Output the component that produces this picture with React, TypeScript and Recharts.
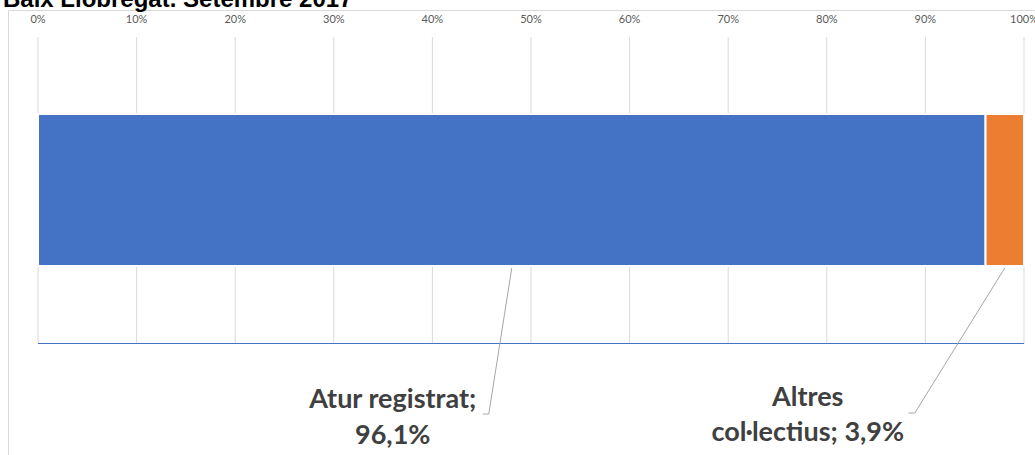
import { BarChart, Bar, XAxis, YAxis, CartesianGrid, LabelList } from "recharts";

const title = "Baix Llobregat. Setembre 2017";
const categories = ["Baix Llobregat"];
const seriesNames = ["Atur registrat", "Altres col·lectius"];
const seriesKeys = ["atur", "altres"];
const seriesValues = [[96.1], [3.9]];
const seriesColors = ["#4472C4", "#ED7D31"];
const ticks = [0, 10, 20, 30, 40, 50, 60, 70, 80, 90, 100];

const data = categories.map((name, i) => {
  const row: any = { name };
  seriesKeys.forEach((k, s) => (row[k] = seriesValues[s][i]));
  return row;
});

// hand-placed label boxes (offsets from the bottom centre of each segment)
const labelLayout = [
  { lineDx: -23, lineDy: 148, hookDx: -29, textDx: -119, y1: 142, y2: 178, breakAfter: 2 },
  { lineDx: -90, lineDy: 147, hookDx: -96, textDx: -197, y1: 140, y2: 175, breakAfter: 1 },
];

const fmt = (v: number) => v.toFixed(1).replace(".", ",") + "%";

function LeaderLabel(props: any) {
  const { s } = props;
  const vb = props.viewBox || props;
  const x = Number(vb.x);
  const y = Number(vb.y);
  const w = Number(vb.width);
  const h = Number(vb.height);
  const cx = x + w / 2;
  const yb = y + h;
  const lay = labelLayout[s];
  const words = `${seriesNames[s]}; ${fmt(seriesValues[s][0])}`.split(" ");
  const line1 = words.slice(0, lay.breakAfter).join(" ");
  const line2 = words.slice(lay.breakAfter).join(" ");
  return (
    <g>
      <polyline
        points={`${cx},${yb + 2} ${cx + lay.lineDx},${yb + lay.lineDy} ${cx + lay.hookDx},${yb + lay.lineDy}`}
        fill="none"
        stroke="#a6a6a6"
        strokeWidth={1}
      />
      <text
        x={cx + lay.textDx}
        textAnchor="middle"
        fill="#404040"
        fontFamily="Lato, sans-serif"
        fontWeight="bold"
        fontSize={27}
      >
        <tspan x={cx + lay.textDx} y={yb + lay.y1}>{line1}</tspan>
        <tspan x={cx + lay.textDx} y={yb + lay.y2}>{line2}</tspan>
      </text>
    </g>
  );
}

export default function App() {
  return (
    <div style={{ position: "absolute", left: 0, top: 0, width: 1035, height: 455, overflow: "hidden", background: "#fff" }}>
      <svg width={1035} height={455} style={{ position: "absolute", left: 0, top: 0 }}>
        <line x1={8.5} y1={10.5} x2={1035} y2={10.5} stroke="#d9d9d9" />
        <line x1={8.5} y1={10.5} x2={8.5} y2={455} stroke="#d9d9d9" />
        <text x={3} y={7} fontFamily="Liberation Sans, Arial, sans-serif" fontWeight="bold" fontSize={24} fill="#000">
          {title}
        </text>
      </svg>
      <div style={{ position: "absolute", left: 0, top: 0 }}>
        <BarChart
          width={1035}
          height={455}
          data={data}
          layout="vertical"
          margin={{ top: 7, right: 11, left: 38, bottom: 110.5 }}
        >
          <CartesianGrid xAxisId="top" horizontal={false} stroke="#d9d9d9" />
          <XAxis
            xAxisId="top"
            type="number"
            orientation="top"
            domain={[0, 100]}
            ticks={ticks}
            tickFormatter={(v) => `${v}%`}
            axisLine={false}
            tickLine={false}
            tickSize={12}
            tickMargin={2}
            height={30}
            interval={0}
            tick={{ fill: "#595959", fontSize: 11, fontFamily: "Lato, sans-serif" }}
          />
          <XAxis
            xAxisId="bottom"
            type="number"
            orientation="bottom"
            domain={[0, 100]}
            tick={false}
            tickLine={false}
            height={1}
            axisLine={{ stroke: "#4472C4", strokeWidth: 1 }}
          />
          <YAxis type="category" dataKey="name" hide />
          {seriesKeys.map((k, s) => (
            <Bar
              key={k}
              dataKey={k}
              name={seriesNames[s]}
              stackId="s"
              xAxisId="top"
              fill={seriesColors[s]}
              stroke="#fff"
              strokeWidth={2}
              barSize={152}
              isAnimationActive={false}
            >
              <LabelList dataKey={k} content={(p: any) => <LeaderLabel {...p} s={s} />} />
            </Bar>
          ))}
        </BarChart>
      </div>
    </div>
  );
}
